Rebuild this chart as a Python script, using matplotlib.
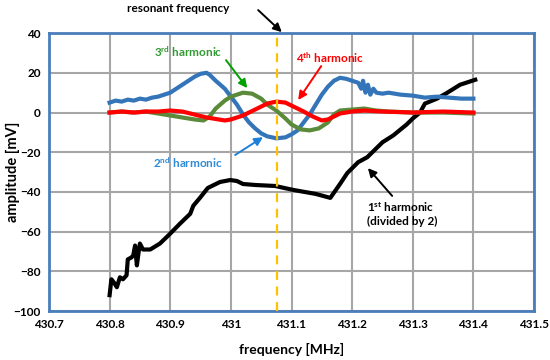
import matplotlib
matplotlib.use("Agg")
import matplotlib.pyplot as plt

plt.rcParams.update({
    'font.family': ['Lato', 'DejaVu Sans'],
    'font.weight': 'bold',
    'axes.labelweight': 'bold',
    'mathtext.fontset': 'custom',
    'mathtext.rm': 'Lato:bold',
    'mathtext.it': 'Lato:bold',
    'mathtext.bf': 'Lato:bold',
})

# 数据
f_2nd = [430.800, 430.81, 430.82, 430.83, 430.84, 430.85, 430.86, 430.87, 430.88, 430.89,
         430.90, 430.91, 430.92, 430.93, 430.94, 430.95, 430.96, 430.965, 430.975, 430.99,
         431.00, 431.01, 431.02, 431.03, 431.04, 431.05, 431.06, 431.075, 431.09, 431.10,
         431.11, 431.12, 431.13, 431.14, 431.15, 431.16, 431.17, 431.18, 431.19, 431.20,
         431.21, 431.215, 431.218, 431.222, 431.226, 431.23, 431.235, 431.24, 431.25, 431.26,
         431.28, 431.30, 431.32, 431.34, 431.36, 431.38, 431.40]
v_2nd = [5, 6, 5.5, 6.5, 6, 7, 6.5, 7.5, 8, 9,
         10, 12, 14, 16, 18, 19.5, 20, 19, 16, 12,
         8, 4, -1, -5, -8, -10.5, -12, -13, -12.5, -11,
         -9, -5, -1, 4, 9, 13, 16, 17.5, 17, 16,
         15, 12, 16, 10, 14, 9, 12, 10, 9.5, 10,
         9, 8.5, 7.5, 8, 7.5, 7, 7]

f_3rd = [430.80, 430.82, 430.84, 430.86, 430.88, 430.89, 430.90, 430.92, 430.94, 430.955,
         430.965, 430.975, 430.99, 431.00, 431.02, 431.035, 431.05, 431.06, 431.075, 431.09,
         431.10, 431.115, 431.13, 431.145, 431.16, 431.17, 431.18, 431.20, 431.22, 431.24,
         431.26, 431.30, 431.35, 431.40]
v_3rd = [0, 0.5, 0, 0.5, -0.5, -1, -1.5, -2.5, -3.5, -4,
         -2, 2, 6, 8, 10, 9.5, 7, 4, 1, -3,
         -6, -8.5, -9, -8, -5, -1, 1, 1.5, 2, 1,
         0.5, 0, 0, -0.5]

f_4th = [430.80, 430.82, 430.84, 430.86, 430.88, 430.90, 430.92, 430.94, 430.96, 430.98,
         430.99, 431.00, 431.02, 431.04, 431.06, 431.075, 431.09, 431.10, 431.12, 431.135,
         431.15, 431.16, 431.17, 431.18, 431.20, 431.22, 431.25, 431.30, 431.35, 431.40]
v_4th = [0, 0.5, 0, 0.5, 0.5, 1, 0.5, -1, -2.5, -3.5,
         -4, -3.5, -1.5, 1.5, 4.5, 5.5, 5, 3.5, 0.5, -2,
         -4, -3.5, -2, -0.5, 0.5, 1, 0.5, 0, 0.5, 0]

f_1st = [430.800, 430.803, 430.808, 430.812, 430.817, 430.822, 430.828, 430.830, 430.836, 430.839,
         430.842, 430.845, 430.848, 430.850, 430.855, 430.867, 430.883, 430.900, 430.916, 430.933,
         430.938, 430.949, 430.962, 430.982, 430.999, 431.010, 431.020, 431.040, 431.073, 431.103,
         431.140, 431.164, 431.180, 431.192, 431.210, 431.225, 431.250, 431.268, 431.290, 431.300,
         431.312, 431.320, 431.340, 431.357, 431.378, 431.403]
v_1st = [-92, -84, -86, -88, -83, -84, -82, -74, -73, -72,
         -67, -77, -70, -66, -69, -69, -66, -61, -56, -51,
         -47, -43, -38, -35, -34, -34.5, -36, -36.5, -37, -39,
         -41, -43, -36, -30.5, -25, -22.5, -15, -11.5, -6, -3,
         0, 4.5, 7, 10, 14, 16.5]

resonant_f = 431.076

x_ticks = [430.7, 430.8, 430.9, 431.0, 431.1, 431.2, 431.3, 431.4, 431.5]
x_labels = ['430.7', '430.8', '430.9', '431', '431.1', '431.2', '431.3', '431.4', '431.5']
y_ticks = [-100, -80, -60, -40, -20, 0, 20, 40]

fig = plt.figure(figsize=(5.5, 3.6), dpi=100)
ax = fig.add_axes([0.089, 0.136, 0.882, 0.772])

ax.plot(f_1st, v_1st, color='black', lw=3, zorder=3)
ax.plot(f_2nd, v_2nd, color='#3475B9', lw=3, zorder=3)
ax.plot(f_3rd, v_3rd, color='#5B8A3A', lw=3, zorder=3)
ax.plot(f_4th, v_4th, color='#FF0000', lw=3, zorder=4)

ax.axvline(resonant_f, color='#FFC000', lw=1.6, dashes=(4, 3), zorder=5)

ax.set_xlim(430.7, 431.5)
ax.set_ylim(-100, 40)
ax.set_xticks(x_ticks)
ax.set_xticklabels(x_labels)
ax.set_yticks(y_ticks)
ax.tick_params(length=0, labelsize=8.5, pad=6)
ax.grid(True, color='#A6A6A6', lw=1.5)
ax.set_axisbelow(True)
for s in ax.spines.values():
    s.set_color('#4A7EBB')
    s.set_linewidth(2)

ax.set_xlabel('frequency [MHz]', fontsize=10, labelpad=9)
fig.text(0.024, 0.522, 'amplitude [mV]', rotation=90, ha='center', va='center',
         fontsize=10.5, fontweight='bold')


def arrow(tail, head, color):
    ax.annotate('', xy=head, xytext=tail, annotation_clip=False,
                arrowprops=dict(arrowstyle='-|>,head_length=0.5,head_width=0.25',
                                color=color, lw=1.4, shrinkA=0, shrinkB=0))


# 标注
ax.text(430.913, 52.6, 'resonant frequency', ha='center', va='center', fontsize=8.5, clip_on=False)
arrow((431.045, 51.6), (431.084, 40.5), 'black')

ax.text(430.929, 30.4, r'3$^{\rm rd}$ harmonic', ha='center', va='center', fontsize=8.5, color='#339933')
arrow((430.992, 26.4), (431.027, 12.3), '#00A000')

ax.text(431.164, 27.4, r'4$^{\rm th}$ harmonic', ha='center', va='center', fontsize=8.5, color='#FF0000')
arrow((431.149, 23.4), (431.111, 6.3), '#FF0000')

ax.text(430.929, -25.5, r'2$^{\rm nd}$ harmonic', ha='center', va='center', fontsize=8.5, color='#2F8AD8')
arrow((431.007, -21.4), (431.053, -12.4), '#1F80D8')

ax.text(431.225, -51, '1$^{\\rm st}$ harmonic\n(divided by 2)', ha='left', va='center',
        fontsize=8.5, color='black', linespacing=1.2)
arrow((431.266, -42), (431.226, -28), 'black')

fig.savefig('out.png', dpi=100)
